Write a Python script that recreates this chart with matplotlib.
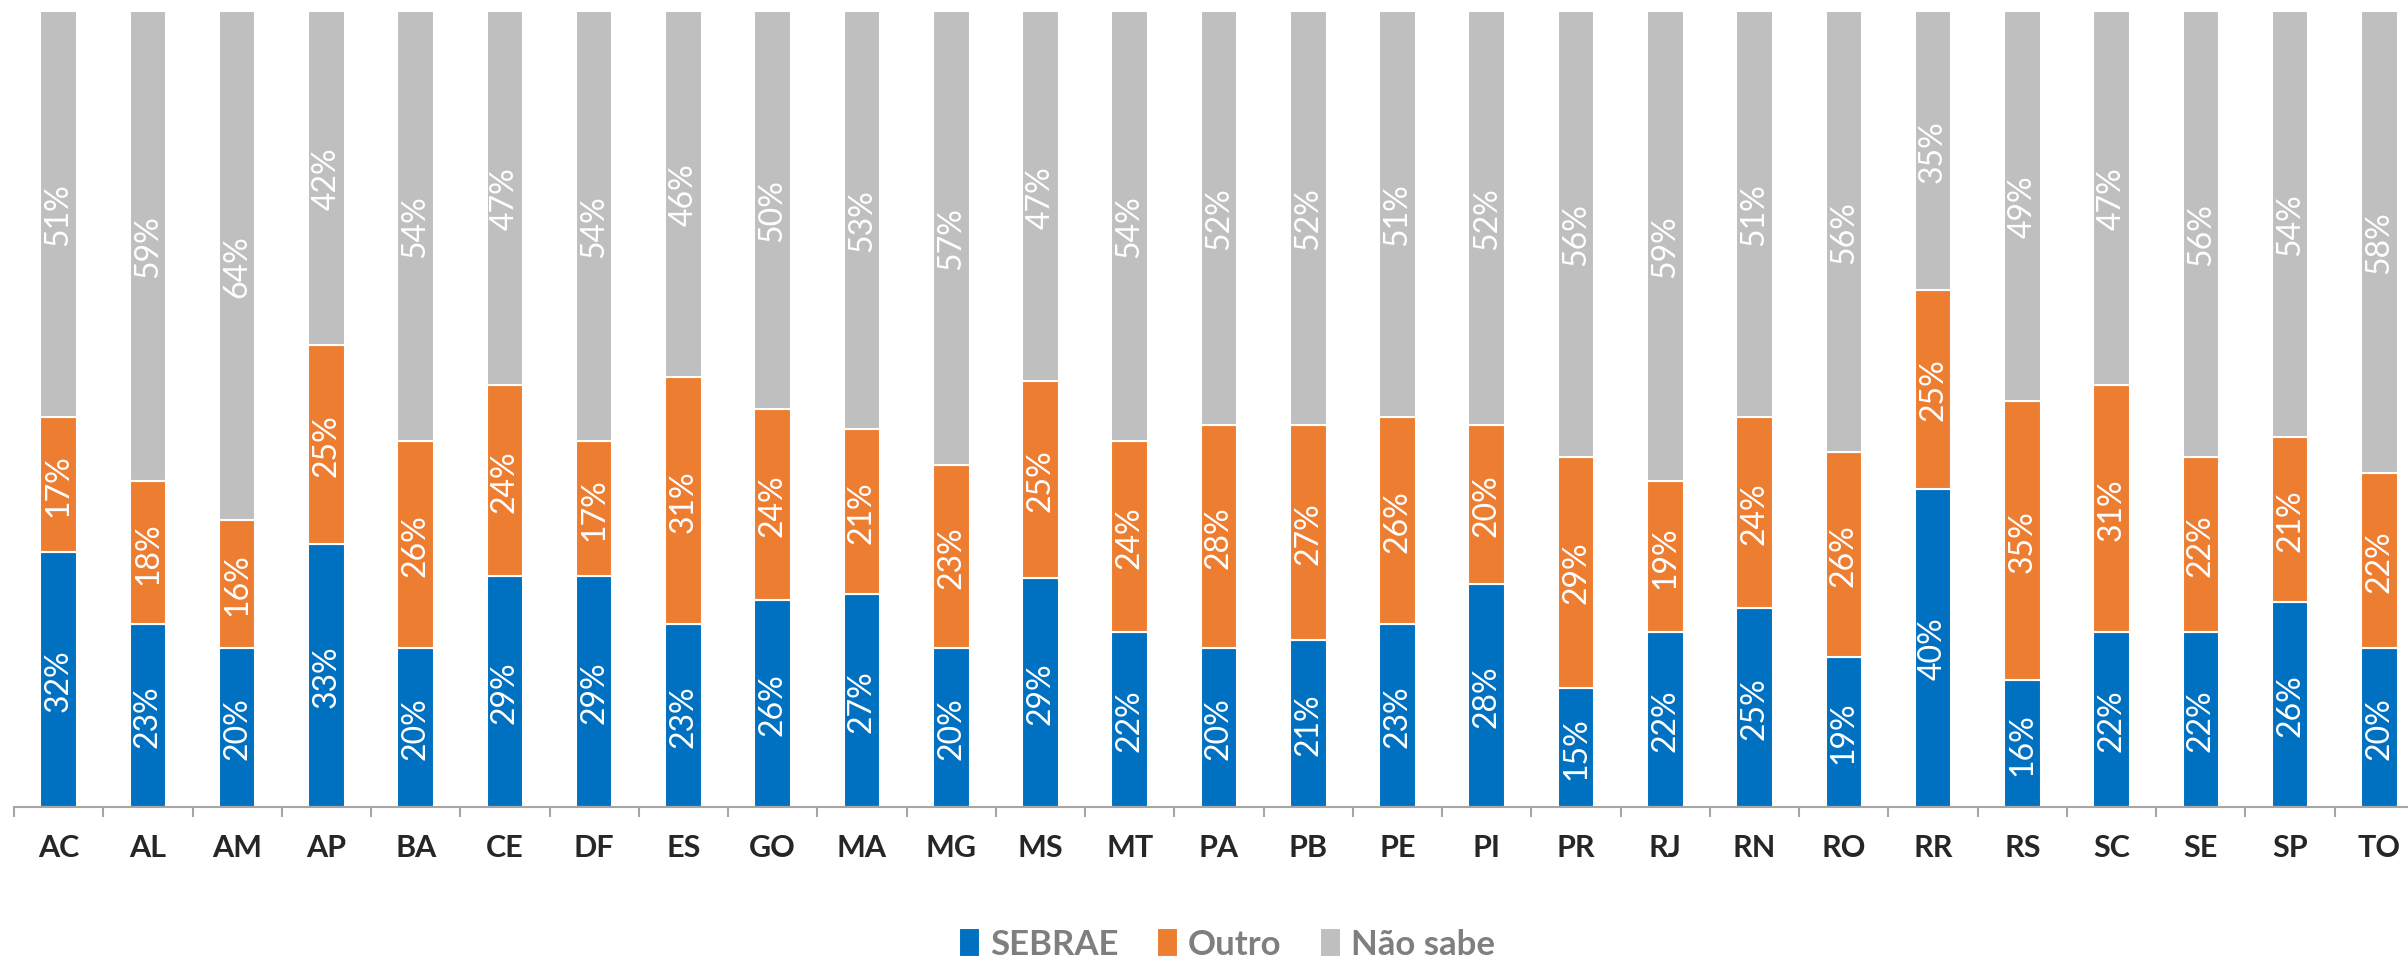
# Gráfico de barras 100% empilhadas por UF
import matplotlib.pyplot as plt
import numpy as np

ufs = ['AC', 'AL', 'AM', 'AP', 'BA', 'CE', 'DF', 'ES', 'GO', 'MA', 'MG', 'MS', 'MT', 'PA',
       'PB', 'PE', 'PI', 'PR', 'RJ', 'RN', 'RO', 'RR', 'RS', 'SC', 'SE', 'SP', 'TO']
sebrae = [32, 23, 20, 33, 20, 29, 29, 23, 26, 27, 20, 29, 22, 20,
          21, 23, 28, 15, 22, 25, 19, 40, 16, 22, 22, 26, 20]
outro = [17, 18, 16, 25, 26, 24, 17, 31, 24, 21, 23, 25, 24, 28,
         27, 26, 20, 29, 19, 24, 26, 25, 35, 31, 22, 21, 22]
nao_sabe = [51, 59, 64, 42, 54, 47, 54, 46, 50, 53, 57, 47, 54, 52,
            52, 51, 52, 56, 59, 51, 56, 35, 49, 47, 56, 54, 58]

series = [('SEBRAE', sebrae, '#0070C0'),
          ('Outro', outro, '#ED7D31'),
          ('Não sabe', nao_sabe, '#BFBFBF')]

plt.rcParams['font.family'] = ['Lato', 'DejaVu Sans']

fig = plt.figure(figsize=(24.08, 9.62), dpi=100)
W, H = 2408, 962
ax = fig.add_axes([14 / W, 154 / H, 2410 / W, 796 / H])

x = np.arange(len(ufs))
total = np.array(sebrae) + np.array(outro) + np.array(nao_sabe)
base = np.zeros(len(ufs))
for nome, vals, cor in series:
    frac = np.array(vals) / total
    ax.bar(x, frac, 0.41, bottom=base, color=cor, edgecolor='white',
           linewidth=1.5, label=nome)
    for xi, b, f, v in zip(x, base, frac, vals):
        ax.text(xi, b + f / 2, f'{v}%', rotation=90, ha='center', va='center',
                color='white', fontsize=23)
    base = base + frac

ax.set_xlim(-0.5, len(ufs) - 0.5)
ax.set_ylim(0, 1)
ax.set_yticks([])
for lado in ['top', 'right', 'left']:
    ax.spines[lado].set_visible(False)
ax.spines['bottom'].set_color('#A6A6A6')
ax.spines['bottom'].set_linewidth(1.5)

ax.set_xticks(x)
ax.set_xticklabels(ufs, fontsize=22, fontweight='bold', color='#262626')
ax.tick_params(axis='x', which='major', length=0, pad=19)
ax.set_xticks(np.arange(len(ufs) + 1) - 0.5, minor=True)
ax.tick_params(axis='x', which='minor', length=7, width=1.5, color='#A6A6A6')

leg = fig.legend(loc='center', bbox_to_anchor=(1227 / W, 1 - 945 / H), ncol=3,
                 frameon=False, handlelength=0.6, handleheight=0.9,
                 handletextpad=0.3, columnspacing=1.1,
                 prop={'size': 25, 'weight': 'bold'})
for t in leg.get_texts():
    t.set_color('#7F7F7F')

fig.savefig('out.png', dpi=100)
